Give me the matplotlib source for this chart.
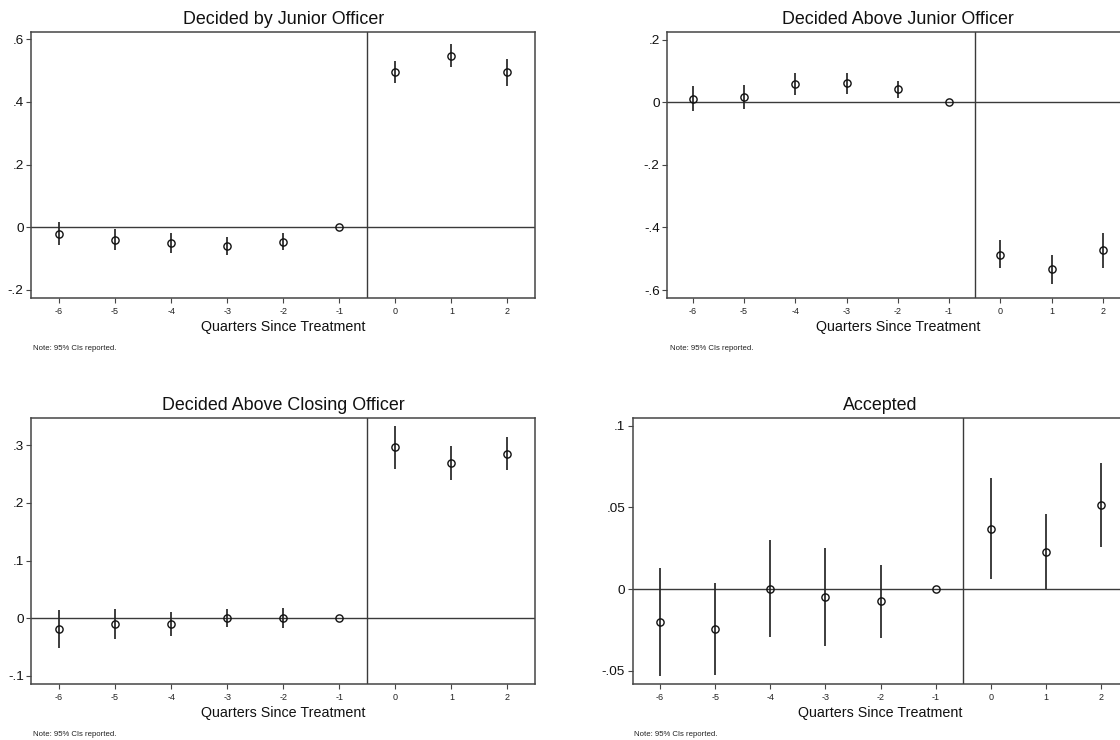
import matplotlib
matplotlib.use("Agg")
import matplotlib.pyplot as plt

plt.rcParams['font.family'] = ['Liberation Sans', 'DejaVu Sans']

# Event-time coefficients with 95% confidence intervals
quarters = [-6, -5, -4, -3, -2, -1, 0, 1, 2]
quarter_labels = ["-6", "-5", "-4", "-3", "-2", "-1", "0", "1", "2"]

junior_coef = [-0.021, -0.039, -0.051, -0.061, -0.046, 0.0, 0.496, 0.547, 0.495]
junior_lo = [-0.057, -0.074, -0.083, -0.089, -0.071, 0.0, 0.461, 0.510, 0.451]
junior_hi = [0.016, -0.005, -0.017, -0.031, -0.019, 0.0, 0.531, 0.585, 0.537]

above_junior_coef = [0.011, 0.018, 0.057, 0.061, 0.041, 0.0, -0.487, -0.533, -0.473]
above_junior_lo = [-0.029, -0.021, 0.023, 0.028, 0.013, 0.0, -0.531, -0.580, -0.531]
above_junior_hi = [0.051, 0.056, 0.093, 0.095, 0.068, 0.0, -0.441, -0.487, -0.418]

above_closing_coef = [-0.0185, -0.0098, -0.0092, 0.0, 0.0006, 0.0, 0.2965, 0.269, 0.2855]
above_closing_lo = [-0.051, -0.036, -0.030, -0.0156, -0.0168, 0.0, 0.2595, 0.240, 0.2566]
above_closing_hi = [0.0145, 0.016, 0.011, 0.0156, 0.018, 0.0, 0.3335, 0.299, 0.3145]

accepted_coef = [-0.0200, -0.0245, 0.0002, -0.0049, -0.0076, 0.0, 0.0369, 0.0229, 0.0516]
accepted_lo = [-0.0533, -0.0525, -0.0294, -0.0351, -0.0302, 0.0, 0.0061, 0.0, 0.0259]
accepted_hi = [0.0131, 0.0037, 0.0300, 0.0251, 0.0149, 0.0, 0.0678, 0.0457, 0.0772]

titles = ["Decided by Junior Officer", "Decided Above Junior Officer",
          "Decided Above Closing Officer", "Accepted"]

junior_ticks = [-0.2, 0.0, 0.2, 0.4, 0.6]
junior_ticklabels = ["-.2", "0", ".2", ".4", ".6"]
above_junior_ticks = [-0.6, -0.4, -0.2, 0.0, 0.2]
above_junior_ticklabels = ["-.6", "-.4", "-.2", "0", ".2"]
above_closing_ticks = [-0.1, 0.0, 0.1, 0.2, 0.3]
above_closing_ticklabels = ["-.1", "0", ".1", ".2", ".3"]
accepted_ticks = [-0.05, 0.0, 0.05, 0.1]
accepted_ticklabels = ["-.05", "0", ".05", ".1"]

W, H = 1120, 740
fig = plt.figure(figsize=(W / 100, H / 100), dpi=100)
fig.patch.set_facecolor("white")


def rect(left, top, right, bottom):
    return [left / W, 1 - bottom / H, (right - left) / W, (bottom - top) / H]


panels = [
    dict(box=(31, 32, 535.4, 298.3), ylim=(-0.2265, 0.623),
         coef=junior_coef, lo=junior_lo, hi=junior_hi,
         ticks=junior_ticks, labels=junior_ticklabels, title=titles[0],
         title_y=24, xlabel_y=331.5, note_x=33, note_y=350),
    dict(box=(667.1, 32, 1128.5, 298.3), ylim=(-0.6265, 0.2246),
         coef=above_junior_coef, lo=above_junior_lo, hi=above_junior_hi,
         ticks=above_junior_ticks, labels=above_junior_ticklabels, title=titles[1],
         title_y=24, xlabel_y=331.5, note_x=669.6, note_y=350),
    dict(box=(31, 417.7, 535.4, 684), ylim=(-0.1139, 0.3479),
         coef=above_closing_coef, lo=above_closing_lo, hi=above_closing_hi,
         ticks=above_closing_ticks, labels=above_closing_ticklabels, title=titles[2],
         title_y=410, xlabel_y=717.5, note_x=33, note_y=736),
    dict(box=(632.5, 417.7, 1128.6, 684), ylim=(-0.0581, 0.1049),
         coef=accepted_coef, lo=accepted_lo, hi=accepted_hi,
         ticks=accepted_ticks, labels=accepted_ticklabels, title=titles[3],
         title_y=410, xlabel_y=717.5, note_x=634.3, note_y=736),
]

frame_color = "#454545"
line_color = "#3a3a3a"

for p in panels:
    left, top, right, bottom = p["box"]
    ax = fig.add_axes(rect(left, top, right, bottom))
    ax.set_xlim(-6.5, 2.5)
    ax.set_ylim(*p["ylim"])

    ax.axhline(0, color=line_color, lw=1.0, zorder=1)
    ax.axvline(-0.5, color=line_color, lw=1.0, zorder=1)

    ax.vlines(quarters, p["lo"], p["hi"], color="#262626", lw=1.25, zorder=2)
    ax.plot(quarters, p["coef"], linestyle="none", marker="o", markersize=5.2,
            markerfacecolor="none", markeredgecolor="#111111",
            markeredgewidth=1.0, zorder=3)

    ax.set_xticks(quarters)
    ax.set_xticklabels(quarter_labels, fontsize=6.5, color="#222222")
    ax.set_yticks(p["ticks"])
    ax.set_yticklabels(p["labels"], fontsize=9.7, color="#111111")
    ax.tick_params(axis="x", direction="out", length=3.6, width=0.8,
                   color=frame_color, pad=3)
    ax.tick_params(axis="y", direction="out", length=3.6, width=0.8,
                   color=frame_color, pad=1.7)
    for s in ax.spines.values():
        s.set_color(frame_color)
        s.set_linewidth(1.1)

    cx = (left + right) / 2
    fig.text(cx / W, 1 - p["title_y"] / H, p["title"], ha="center",
             va="baseline", fontsize=12.9, color="#111111")
    fig.text(cx / W, 1 - p["xlabel_y"] / H, "Quarters Since Treatment",
             ha="center", va="baseline", fontsize=10.3, color="#111111")
    fig.text(p["note_x"] / W, 1 - p["note_y"] / H, "Note: 95% CIs reported.",
             ha="left", va="baseline", fontsize=5.6, color="#222222")

fig.savefig("out.png", dpi=100, facecolor="white")
